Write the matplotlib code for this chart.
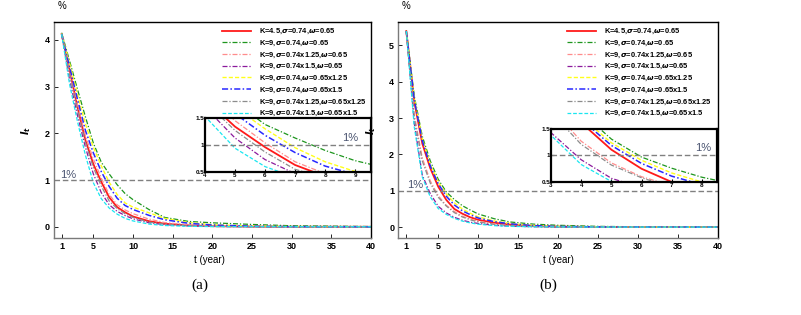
import matplotlib
matplotlib.use("Agg")
import matplotlib.pyplot as plt

plt.rcParams['font.family'] = ['Liberation Sans', 'DejaVu Sans']
plt.rcParams['mathtext.fontset'] = 'custom'
plt.rcParams['mathtext.it'] = 'DejaVu Sans:italic:bold'
plt.rcParams['mathtext.rm'] = 'Liberation Sans:bold'

t = [1, 2, 3, 4, 5, 6, 7, 8, 9, 10, 12, 14, 17, 20, 25, 30, 40]

labels = ["K=4.5,$\\sigma$=0.74,$\\omega$=0.65",
          "K=9,$\\sigma$=0.74,$\\omega$=0.65",
          "K=9,$\\sigma$=0.74x1.25,$\\omega$=0.65",
          "K=9,$\\sigma$=0.74x1.5,$\\omega$=0.65",
          "K=9,$\\sigma$=0.74,$\\omega$=0.65x1.25",
          "K=9,$\\sigma$=0.74,$\\omega$=0.65x1.5",
          "K=9,$\\sigma$=0.74x1.25,$\\omega$=0.65x1.25",
          "K=9,$\\sigma$=0.74x1.5,$\\omega$=0.65x1.5"]

# panel (a)
red_a = [4.12, 3.36, 2.56, 1.85, 1.34, 0.96, 0.63, 0.42, 0.31, 0.22, 0.12, 0.065, 0.03, 0.013, 0.004, 0.001, 0]
green_a = [4.15, 3.55, 2.94, 2.35, 1.79, 1.38, 1.13, 0.9, 0.71, 0.58, 0.37, 0.2, 0.115, 0.085, 0.05, 0.022, 0.005]
pink_a = [4.13, 3.4, 2.62, 1.95, 1.45, 1.04, 0.69, 0.47, 0.36, 0.28, 0.165, 0.09, 0.045, 0.02, 0.006, 0.002, 0]
purple_a = [4.12, 3.15, 2.38, 1.7, 1.13, 0.73, 0.47, 0.33, 0.24, 0.17, 0.085, 0.045, 0.018, 0.007, 0.002, 0.0005, 0]
yellow_a = [4.14, 3.5, 2.83, 2.2, 1.7, 1.3, 0.95, 0.69, 0.51, 0.42, 0.3, 0.18, 0.09, 0.045, 0.015, 0.005, 0]
blue_a = [4.13, 3.42, 2.73, 2.06, 1.58, 1.18, 0.86, 0.61, 0.455, 0.37, 0.245, 0.15, 0.075, 0.038, 0.012, 0.004, 0]
gray_a = [4.12, 3.27, 2.5, 1.8, 1.27, 0.87, 0.55, 0.39, 0.28, 0.2, 0.1, 0.055, 0.024, 0.01, 0.003, 0.001, 0]
cyan_a = [4.12, 3.05, 2.25, 1.53, 0.94, 0.6, 0.4, 0.27, 0.18, 0.125, 0.058, 0.027, 0.01, 0.004, 0.001, 0, 0]

# panel (b)
red_b = [5.39, 3.45, 2.3, 1.62, 1.11, 0.75, 0.5, 0.37, 0.27, 0.2, 0.12, 0.07, 0.03, 0.013, 0.004, 0.001, 0]
green_b = [5.4, 3.6, 2.5, 1.82, 1.31, 0.97, 0.76, 0.59, 0.47, 0.36, 0.23, 0.14, 0.08, 0.05, 0.02, 0.008, 0.002]
pink_b = [5.38, 3.1, 1.9, 1.27, 0.86, 0.6, 0.43, 0.3, 0.22, 0.16, 0.085, 0.045, 0.018, 0.008, 0.002, 0.0005, 0]
purple_b = [5.38, 2.85, 1.43, 0.92, 0.57, 0.39, 0.27, 0.19, 0.135, 0.1, 0.05, 0.025, 0.01, 0.004, 0.001, 0, 0]
yellow_b = [5.39, 3.55, 2.43, 1.73, 1.24, 0.91, 0.67, 0.5, 0.38, 0.28, 0.17, 0.1, 0.045, 0.02, 0.007, 0.002, 0]
blue_b = [5.39, 3.5, 2.38, 1.68, 1.19, 0.85, 0.61, 0.45, 0.34, 0.25, 0.15, 0.09, 0.04, 0.018, 0.006, 0.002, 0]
gray_b = [5.37, 3.0, 1.82, 1.21, 0.82, 0.58, 0.4, 0.28, 0.2, 0.14, 0.075, 0.04, 0.016, 0.007, 0.002, 0.0005, 0]
cyan_b = [5.39, 2.75, 1.38, 0.83, 0.51, 0.35, 0.24, 0.166, 0.115, 0.08, 0.04, 0.02, 0.008, 0.003, 0.001, 0, 0]

series_a = [red_a, green_a, pink_a, purple_a, yellow_a, blue_a, gray_a, cyan_a]
series_b = [red_b, green_b, pink_b, purple_b, yellow_b, blue_b, gray_b, cyan_b]

colors = ['#ff1a1a', '#1e961e', '#ff8c8c', '#8c1a9c', '#ffff1a', '#2828ff', '#8c8c8c', '#1ae6f0']
styles = ['-', (0, (4, 1.5, 1, 1.5)), (0, (4, 1.5, 1, 1.5)), (0, (4, 1.5, 1, 1.5)),
          (0, (3, 1.5)), (0, (4, 1.5, 1, 1.5)), (0, (4, 1.5, 1, 1.5)), (0, (3, 1.5))]
widths = [1.3, 0.9, 0.9, 0.9, 1.0, 1.1, 0.9, 0.9]

W, H = 801, 315
fig = plt.figure(figsize=(W / 100, H / 100), dpi=100)


def rect(x0, x1, y0, y1):
    # pixel box (top-left origin) -> figure fraction
    return [x0 / W, 1 - y1 / H, (x1 - x0) / W, (y1 - y0) / H]


def bold_labels(ax):
    for lab in ax.get_xticklabels() + ax.get_yticklabels():
        lab.set_fontweight('bold')


def panel(box, ibox, data, ylim, yticks, ixlim, ixticks, one_main, one_inset,
          leg_xy, xlab_x, caption, cap_x):
    ax = fig.add_axes(rect(*box))
    for s, c, ls, lw, lab in zip(data, colors, styles, widths, labels):
        ax.plot(t, s, color=c, ls=ls, lw=lw, label=lab)
    ax.axhline(1, color='#808080', ls=(0, (4, 2)), lw=1.0)
    ax.set_xlim(0, 40)
    ax.set_ylim(*ylim)
    ax.set_xticks([1, 5, 10, 15, 20, 25, 30, 35, 40])
    ax.set_yticks(yticks)
    ax.tick_params(direction='in', length=3, width=0.6, labelsize=6.5, pad=3)
    bold_labels(ax)
    for side in ['left', 'bottom']:
        ax.spines[side].set_color('#7a7a7a')
        ax.spines[side].set_linewidth(1.0)
    for side in ['top', 'right']:
        ax.spines[side].set_linewidth(1.0)
    ax.set_ylabel('$I_t$', fontsize=7)
    ax.yaxis.set_label_coords(-0.065, 0.5)
    ax.text(xlab_x, -0.1, 't (year)', transform=ax.transAxes, ha='center', va='center',
            fontsize=7)
    ax.text(1, ylim[1] + 0.05 * (ylim[1] - ylim[0]), '%', ha='center', va='bottom', fontsize=7)
    ax.text(one_main[0], one_main[1], '1%', ha='center', va='center', fontsize=8,
            color='#4a5470')
    leg = ax.legend(loc='upper left', bbox_to_anchor=(leg_xy[0] / W, 1 - leg_xy[1] / H),
                    bbox_transform=fig.transFigure, frameon=False, fontsize=5.4,
                    handlelength=3.8, handletextpad=1.1, labelspacing=0.32, borderpad=0,
                    borderaxespad=0)
    for txt in leg.get_texts():
        txt.set_fontweight('bold')

    ins = fig.add_axes(rect(*ibox))
    for s, c, ls, lw in zip(data, colors, styles, widths):
        ins.plot(t, s, color=c, ls=ls, lw=lw)
    ins.axhline(1, color='#808080', ls=(0, (4, 2)), lw=1.0)
    ins.set_xlim(*ixlim)
    ins.set_ylim(0.5, 1.5)
    ins.set_xticks(ixticks)
    ins.set_yticks([0.5, 1, 1.5])
    ins.set_yticklabels(['0.5', '1', '1.5'])
    ins.tick_params(direction='in', length=2, width=0.8, labelsize=4.5, pad=0.5)
    bold_labels(ins)
    for side in ins.spines:
        ins.spines[side].set_linewidth(1.6)
    ins.text(one_inset[0], one_inset[1], '1%', ha='center', va='center', fontsize=8,
             color='#4a5470')

    fig.text(cap_x / W, 1 - 285 / H, caption, ha='center', va='center', fontsize=11,
             family='Liberation Serif')


panel((53.7, 371, 22, 238), (205, 371, 118, 172), series_a, (-0.24, 4.38), [0, 1, 2, 3, 4],
      (4, 9.53), [4, 5, 6, 7, 8, 9], (1.8, 1.1), (8.85, 1.13), (222, 27), 0.49, '(a)', 200)
panel((398.3, 718, 22, 238), (551, 717, 129, 182), series_b, (-0.3, 5.64), [0, 1, 2, 3, 4, 5],
      (3, 8.5), [3, 4, 5, 6, 7, 8], (2.1, 1.16), (8.05, 1.15), (567, 27), 0.5, '(b)', 548)

fig.savefig('out.png', dpi=100)
